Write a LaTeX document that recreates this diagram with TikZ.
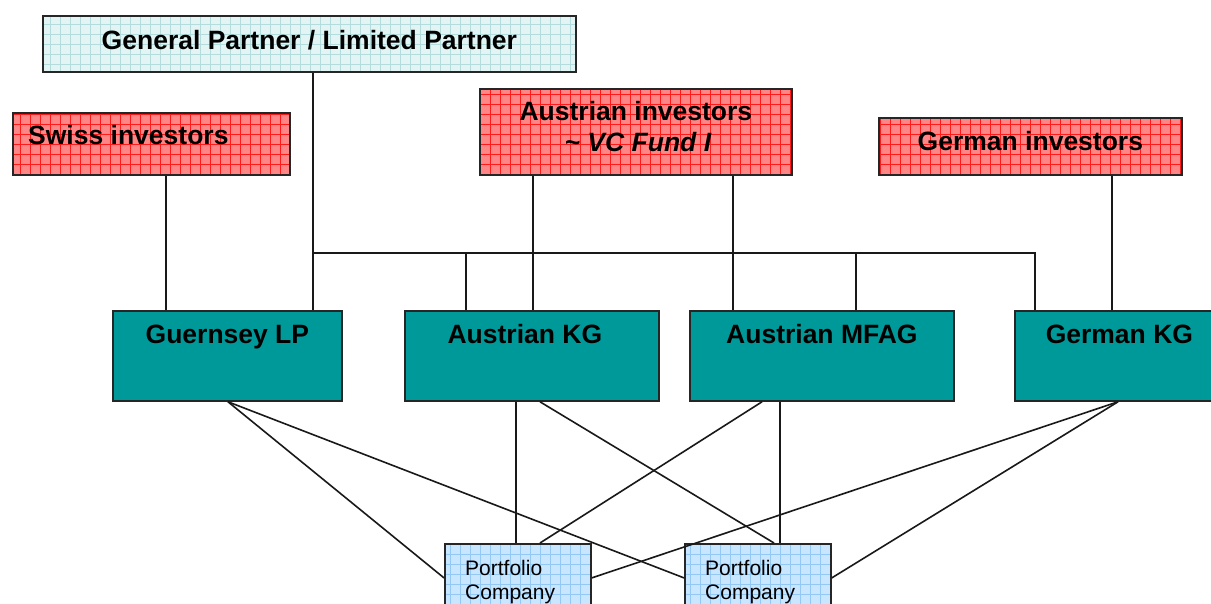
\documentclass[tikz,border=0pt]{standalone}
\usepackage{fontspec}
\setmainfont{Liberation Sans}
\usetikzlibrary{patterns.meta}
\definecolor{invfill}{HTML}{FF8686}
\definecolor{invgrid}{HTML}{FF1A1A}
\definecolor{kgfill}{HTML}{009999}
\definecolor{gpfill}{HTML}{E2F4F4}
\definecolor{gpgrid}{HTML}{B4DCDC}
\definecolor{pcfill}{HTML}{C8E6FF}
\definecolor{pcgrid}{HTML}{94C8F4}
\begin{document}
\begin{tikzpicture}[
    x=1pt,y=-1pt,
    box/.style={draw=black!85,line width=1.8pt,anchor=north west,inner sep=0pt},
    invbox/.style={box,preaction={fill=invfill},
      preaction={pattern color=invgrid,pattern={Hatch[angle=0,distance=10pt,line width=0.5pt]}}},
    gpbox/.style={box,preaction={fill=gpfill},
      preaction={pattern color=gpgrid,pattern={Hatch[angle=0,distance=10pt,line width=0.5pt]}}},
    pcbox/.style={box,preaction={fill=pcfill},
      preaction={pattern color=pcgrid,pattern={Hatch[angle=0,distance=10pt,line width=0.5pt]}}},
    kgbox/.style={box,fill=kgfill},
    bigtxt/.style={inner sep=0pt,font=\fontsize{26.5pt}{30pt}\selectfont\bfseries},
    smalltxt/.style={inner sep=0pt,anchor=base west,font=\fontsize{21pt}{24pt}\selectfont},
    link/.style={line width=1.6pt,draw=black!90},
  ]
  \useasboundingbox (0,0) rectangle (1211,604);
  \clip (0,0) rectangle (1211,604);
  \node[gpbox,minimum width=533pt,minimum height=56pt] (gp) at (42,15) {};
  \node[invbox,minimum width=277pt,minimum height=62pt] (swiss) at (12,112) {};
  \node[invbox,minimum width=312pt,minimum height=86pt] (atinv) at (479,88) {};
  \node[invbox,minimum width=303pt,minimum height=57pt] (deinv) at (878,117) {};
  \node[kgbox,minimum width=229pt,minimum height=90pt] (guernsey) at (112,310) {};
  \node[kgbox,minimum width=254pt,minimum height=90pt] (atkg) at (404,310) {};
  \node[kgbox,minimum width=264pt,minimum height=90pt] (atmfag) at (689,310) {};
  \node[kgbox,minimum width=209pt,minimum height=90pt] (dekg) at (1014,310) {};
  \node[pcbox,minimum width=146pt,minimum height=68pt] (pc1) at (444,543) {};
  \node[pcbox,minimum width=146pt,minimum height=68pt] (pc2) at (684,543) {};
  \node[bigtxt,anchor=base] (gpt) at ([yshift=-35pt]gp.north) {General Partner / Limited Partner};
  \node[bigtxt,anchor=base west] (swisst) at ([xshift=16pt,yshift=-33pt]swiss.north west) {Swiss investors};
  \node[bigtxt,anchor=base] (atinvt) at ([yshift=-33pt]atinv.north) {Austrian investors};
  \node[bigtxt,anchor=base] (fundt) at ([xshift=2pt,yshift=-64pt]atinv.north) {\itshape \char`\~{} VC Fund I};
  \node[bigtxt,anchor=base] (deinvt) at ([yshift=-34pt]deinv.north) {German investors};
  \node[bigtxt,anchor=base] (guernseyt) at ([yshift=-34pt]guernsey.north) {Guernsey LP};
  \node[bigtxt,anchor=base] (atkgt) at ([xshift=-7pt,yshift=-34pt]atkg.north) {Austrian KG};
  \node[bigtxt,anchor=base] (atmfagt) at ([yshift=-34pt]atmfag.north) {Austrian MFAG};
  \node[bigtxt,anchor=base] (dekgt) at ([yshift=-34pt]dekg.north) {German KG};
  \node[smalltxt] (pc1a) at ([xshift=21pt,yshift=-32pt]pc1.north west) {Portfolio};
  \node[smalltxt] (pc1b) at ([xshift=21pt,yshift=-56pt]pc1.north west) {Company};
  \node[smalltxt] (pc2a) at ([xshift=21pt,yshift=-32pt]pc2.north west) {Portfolio};
  \node[smalltxt] (pc2b) at ([xshift=21pt,yshift=-56pt]pc2.north west) {Company};
  \coordinate (bus) at (312,253);
  \draw[link] ([xshift=14.5pt]swiss.south) -- ([xshift=14.5pt]swiss.south |- guernsey.north);
  \draw[link] ([xshift=3.5pt]gp.south) -- ([xshift=3.5pt]gp.south |- guernsey.north);
  \draw[link] (bus) -| ([xshift=21pt]dekg.north west);
  \draw[link] ([xshift=62pt]atkg.north west) -- ([xshift=62pt]atkg.north west |- bus);
  \draw[link] ([xshift=167pt]atmfag.north west) -- ([xshift=167pt]atmfag.north west |- bus);
  \draw[link] ([xshift=54pt]atinv.south west) -- ([xshift=54pt]atinv.south west |- atkg.north);
  \draw[link] ([xshift=254pt]atinv.south west) -- ([xshift=254pt]atinv.south west |- atmfag.north);
  \draw[link] ([xshift=234pt]deinv.south west) -- ([xshift=234pt]deinv.south west |- dekg.north);
  \draw[link] ([xshift=116pt]guernsey.south west) -- (pc1.west);
  \draw[link] ([xshift=116pt]guernsey.south west) -- (pc2.west);
  \draw[link] ([xshift=112pt]atkg.south west) -- ([xshift=72pt]pc1.north west);
  \draw[link] ([xshift=136pt]atkg.south west) -- ([xshift=90pt]pc2.north west);
  \draw[link] ([xshift=73pt]atmfag.south west) -- ([xshift=96pt]pc1.north west);
  \draw[link] ([xshift=91pt]atmfag.south west) -- ([xshift=96pt]pc2.north west);
  \draw[link] ([xshift=104pt]dekg.south west) -- (pc1.east);
  \draw[link] ([xshift=104pt]dekg.south west) -- (pc2.east);
\end{tikzpicture}
\end{document}
